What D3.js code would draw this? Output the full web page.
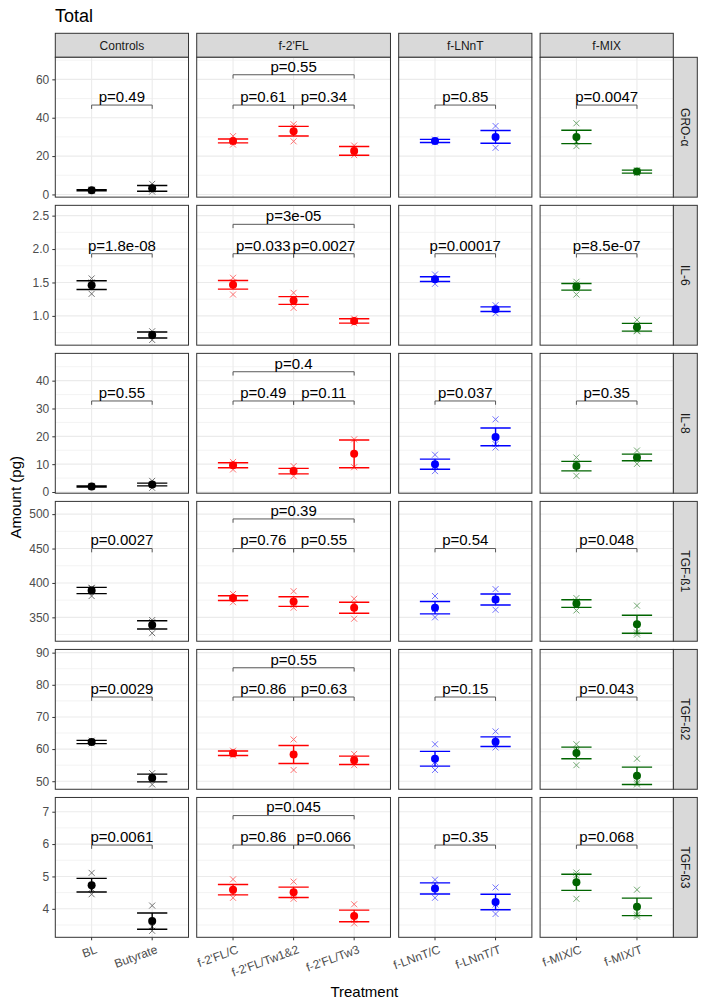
<!DOCTYPE html>
<html>
<head>
<meta charset="utf-8">
<script src="https://cdn.jsdelivr.net/npm/d3@7"></script>
<style>
  body { margin: 0; background: #fff; }
  svg { font-family: "Liberation Sans", Arial, sans-serif; }
</style>
</head>
<body>
<div id="chart"></div>
<script>
const facets = ["Controls", "f-2'FL", "f-LNnT", "f-MIX"];
const treatments = [
  ["BL", "Butyrate"],
  ["f-2'FL/C", "f-2'FL/Tw1&2", "f-2'FL/Tw3"],
  ["f-LNnT/C", "f-LNnT/T"],
  ["f-MIX/C", "f-MIX/T"]
];
const facetColors = ["#000000", "#FF0000", "#0000FF", "#006400"];
const cytokines = ["GRO-α", "IL-6", "IL-8", "TGF-ß1", "TGF-ß2", "TGF-ß3"];

// order: BL, Butyrate, 2'FL/C, 2'FL/Tw1&2, 2'FL/Tw3, LNnT/C, LNnT/T, MIX/C, MIX/T
const groMean = [2.2, 3.2, 27.9, 33.0, 22.7, 27.9, 30.0, 30.0, 11.9];
const groSE   = [0.3, 1.5, 1.0, 2.5, 2.3, 0.8, 3.3, 3.5, 0.8];
const groPts  = [[1.9, 2.2, 2.5], [1.5, 2.5, 5.5], [26.0, 27.3, 30.4], [27.7, 35.0, 36.6], [20.5, 22.0, 25.5],
                 [27.2, 27.9, 28.6], [24.3, 30.0, 35.7], [25.2, 27.7, 37.1], [11.2, 11.9, 12.6]];

const il6Mean = [1.46, 0.715, 1.465, 1.23, 0.925, 1.55, 1.10, 1.435, 0.83];
const il6SE   = [0.065, 0.045, 0.065, 0.058, 0.033, 0.035, 0.035, 0.05, 0.058];
const il6Pts  = [[1.33, 1.50, 1.56], [0.64, 0.73, 0.77], [1.32, 1.50, 1.57], [1.12, 1.22, 1.345], [0.89, 0.93, 0.96],
                 [1.48, 1.55, 1.62], [1.04, 1.10, 1.16], [1.32, 1.47, 1.51], [0.77, 0.78, 0.94]];

const il8Mean = [2.0, 2.7, 9.6, 7.5, 13.7, 10.0, 19.8, 9.3, 12.4];
const il8SE   = [0.2, 0.5, 0.9, 1.0, 5.0, 1.8, 3.2, 1.7, 1.2];
const il8Pts  = [[1.8, 2.0, 2.2], [1.5, 2.6, 4.0], [8.1, 9.8, 10.8], [5.7, 7.5, 9.3], [8.9, 18.9],
                 [7.5, 9.2, 13.4], [16.0, 17.2, 26.1], [5.8, 9.6, 12.4], [10.1, 12.2, 14.9]];

const tgf1Mean = [389, 339, 378, 373, 364, 364, 376, 370, 340];
const tgf1SE   = [4.5, 6, 3.5, 7, 8, 9, 8, 5.5, 13];
const tgf1Pts  = [[381, 392, 393], [327, 343, 346], [372, 378, 384], [364, 368, 388], [348, 368, 377],
                  [350, 362, 381], [361, 376, 391], [360, 373, 378], [325, 328, 367]];

const tgf2Mean = [62.2, 51.0, 58.7, 58.3, 56.5, 57.0, 62.3, 58.8, 51.7];
const tgf2SE   = [0.5, 1.2, 0.7, 2.8, 1.3, 2.3, 1.5, 1.8, 2.7];
const tgf2Pts  = [[61.8, 62.2, 62.6], [49.0, 51.5, 52.5], [58.0, 58.5, 59.5], [53.5, 58.5, 63.0], [55.0, 56.5, 58.5],
                  [53.5, 56.0, 61.5], [60.5, 61.5, 65.5], [55.0, 59.5, 61.5], [49.0, 49.5, 57.0]];

const tgf3Mean = [4.73, 3.62, 4.59, 4.51, 3.78, 4.63, 4.21, 4.82, 4.06];
const tgf3SE   = [0.21, 0.25, 0.16, 0.16, 0.18, 0.17, 0.24, 0.25, 0.27];
const tgf3Pts  = [[4.45, 4.62, 5.11], [3.32, 3.45, 4.10], [4.34, 4.53, 4.91], [4.31, 4.39, 4.84], [3.55, 3.66, 4.14],
                  [4.34, 4.66, 4.90], [3.84, 4.13, 4.66], [4.31, 5.04, 5.12], [3.76, 3.82, 4.59]];

// p-values: Controls, 2'FL C vs Tw3, 2'FL C vs Tw1&2, 2'FL Tw1&2 vs Tw3, LNnT, MIX
const groP  = ["0.49", "0.55", "0.61", "0.34", "0.85", "0.0047"];
const il6P  = ["1.8e-08", "3e-05", "0.033", "0.0027", "0.00017", "8.5e-07"];
const il8P  = ["0.55", "0.4", "0.49", "0.11", "0.037", "0.35"];
const tgf1P = ["0.0027", "0.39", "0.76", "0.55", "0.54", "0.048"];
const tgf2P = ["0.0029", "0.55", "0.86", "0.63", "0.15", "0.043"];
const tgf3P = ["0.0061", "0.045", "0.86", "0.066", "0.35", "0.068"];

// y-axis limits, ticks, bracket heights [lower, upper]
const yDomains = [[-1.4, 71.5], [0.562, 2.654], [-0.43, 49.8], [315.3, 518.5], [47.5, 91], [3.12, 7.44]];
const yTicks = [[0, 20, 40, 60], [1.0, 1.5, 2.0, 2.5], [0, 10, 20, 30, 40], [350, 400, 450, 500], [50, 60, 70, 80, 90], [4, 5, 6, 7]];
const bracketY = [[46.6, 62.4], [1.93, 2.37], [32.7, 43.2], [450, 493], [76.2, 85.3], [5.97, 6.88]];

const means = [groMean, il6Mean, il8Mean, tgf1Mean, tgf2Mean, tgf3Mean];
const ses = [groSE, il6SE, il8SE, tgf1SE, tgf2SE, tgf3SE];
const pts = [groPts, il6Pts, il8Pts, tgf1Pts, tgf2Pts, tgf3Pts];
const pvals = [groP, il6P, il8P, tgf1P, tgf2P, tgf3P];
// facet, from, to, level
const comparisons = [[0, 0, 1, 0], [1, 0, 2, 1], [1, 0, 1, 0], [1, 1, 2, 0], [2, 0, 1, 0], [3, 0, 1, 0]];

const width = 711, height = 1008;
const pLeft = 55.3, pRight = 673.3, pTop = 57.3, pBottom = 937.3, gap = 8.2, strip = 24;

const svg = d3.select("#chart").append("svg")
  .attr("width", width).attr("height", height);

const unit = (pRight - pLeft - gap * 3) / d3.sum(treatments, t => t.length - 1 + 1.2);
let x0 = pLeft;
const xScales = treatments.map(t => {
  const w = (t.length - 1 + 1.2) * unit;
  const s = d3.scalePoint().domain(t).range([x0, x0 + w]).padding(0.6);
  x0 += w + gap;
  return s;
});
const rowH = (pBottom - pTop - gap * 5) / 6;

// title
svg.append("text").attr("x", 55).attr("y", 22).attr("font-size", 18).text("Total");

// top strips
facets.forEach((f, i) => {
  const [a, b] = xScales[i].range();
  svg.append("rect").attr("x", a).attr("y", pTop - strip).attr("width", b - a).attr("height", strip)
    .attr("fill", "#D9D9D9").attr("stroke", "#333333").attr("stroke-width", 1);
  svg.append("text").attr("x", (a + b) / 2).attr("y", pTop - strip / 2).attr("dy", "0.35em")
    .attr("text-anchor", "middle").attr("font-size", 12).attr("fill", "#1A1A1A").text(f);
});

let flat = 0;
const offsets = treatments.map(t => { const o = flat; flat += t.length; return o; });

cytokines.forEach((cyt, r) => {
  const y0 = pTop + r * (rowH + gap), y1 = y0 + rowH;
  const y = d3.scaleLinear().domain(yDomains[r]).range([y1, y0]);
  const ticks = yTicks[r];
  const step = ticks[1] - ticks[0];
  const minor = [ticks[0] - step / 2, ...ticks.map(t => t + step / 2)]
    .filter(v => v >= yDomains[r][0] && v <= yDomains[r][1]);
  const fmt = r === 1 ? d3.format(".1f") : d3.format("d");

  // right strip
  svg.append("rect").attr("x", pRight).attr("y", y0).attr("width", strip).attr("height", rowH)
    .attr("fill", "#D9D9D9").attr("stroke", "#333333").attr("stroke-width", 1);
  svg.append("text")
    .attr("transform", `translate(${pRight + strip / 2},${(y0 + y1) / 2}) rotate(90)`)
    .attr("dy", "0.35em").attr("text-anchor", "middle").attr("font-size", 12).attr("fill", "#1A1A1A")
    .text(cyt);

  // y axis on the first column
  const yAxis = svg.append("g").attr("transform", `translate(${pLeft},0)`)
    .call(d3.axisLeft(y).tickValues(ticks).tickFormat(fmt).tickSize(3).tickPadding(3));
  yAxis.select(".domain").remove();
  yAxis.selectAll("line").attr("stroke", "#333333");
  yAxis.selectAll("text").attr("font-size", 12).attr("fill", "#4D4D4D")
    .attr("font-family", "Liberation Sans, Arial, sans-serif");

  treatments.forEach((tr, f) => {
    const x = xScales[f];
    const [a, b] = x.range();
    const g = svg.append("g");
    const col = facetColors[f];

    g.append("rect").attr("x", a).attr("y", y0).attr("width", b - a).attr("height", rowH).attr("fill", "#fff");
    g.selectAll(".minor").data(minor).enter().append("line")
      .attr("x1", a).attr("x2", b).attr("y1", d => y(d)).attr("y2", d => y(d))
      .attr("stroke", "#EBEBEB").attr("stroke-width", 0.6);
    g.selectAll(".major").data(ticks).enter().append("line")
      .attr("x1", a).attr("x2", b).attr("y1", d => y(d)).attr("y2", d => y(d))
      .attr("stroke", "#EBEBEB").attr("stroke-width", 1.1);
    g.selectAll(".vgrid").data(tr).enter().append("line")
      .attr("x1", d => x(d)).attr("x2", d => x(d)).attr("y1", y0).attr("y2", y1)
      .attr("stroke", "#EBEBEB").attr("stroke-width", 1.1);

    // brackets
    comparisons.forEach((c, k) => {
      if (c[0] !== f) return;
      const xa = x(tr[c[1]]), xb = x(tr[c[2]]);
      const yb = y(bracketY[r][c[3]]);
      g.append("path")
        .attr("d", `M${xa},${yb + 3.8}V${yb}H${xb}V${yb + 3.8}`)
        .attr("fill", "none").attr("stroke", "#595959").attr("stroke-width", 1);
      g.append("text").attr("x", (xa + xb) / 2).attr("y", yb - 3.2)
        .attr("text-anchor", "middle").attr("font-size", 15).attr("fill", "#000")
        .text("p=" + pvals[r][k]);
    });

    tr.forEach((t, i) => {
      const idx = offsets[f] + i;
      const cx = x(t);
      const m = means[r][idx], se = ses[r][idx];
      // raw points
      pts[r][idx].forEach(v => {
        const py = y(v);
        g.append("path").attr("d", `M${cx - 3},${py - 3}L${cx + 3},${py + 3}M${cx - 3},${py + 3}L${cx + 3},${py - 3}`)
          .attr("stroke", col).attr("stroke-width", 1).attr("opacity", 0.55);
      });
      // error bar
      const hw = unit * 0.25;
      g.append("path")
        .attr("d", `M${cx - hw},${y(m + se)}H${cx + hw}M${cx},${y(m + se)}V${y(m - se)}M${cx - hw},${y(m - se)}H${cx + hw}`)
        .attr("fill", "none").attr("stroke", col).attr("stroke-width", 1.4);
      g.append("circle").attr("cx", cx).attr("cy", y(m)).attr("r", 4).attr("fill", col);
    });

    g.append("rect").attr("x", a).attr("y", y0).attr("width", b - a).attr("height", rowH)
      .attr("fill", "none").attr("stroke", "#333333").attr("stroke-width", 1);

    // x axis on bottom row
    if (r === cytokines.length - 1) {
      tr.forEach(t => {
        svg.append("line").attr("x1", x(t)).attr("x2", x(t)).attr("y1", y1).attr("y2", y1 + 3)
          .attr("stroke", "#333333");
        svg.append("text")
          .attr("transform", `translate(${x(t) + 3},${y1 + 7}) rotate(-20)`)
          .attr("dy", "0.75em").attr("text-anchor", "end").attr("font-size", 12).attr("fill", "#4D4D4D")
          .text(t);
      });
    }
  });
});

// axis titles
svg.append("text")
  .attr("transform", `translate(21,${(pTop + pBottom) / 2}) rotate(-90)`)
  .attr("text-anchor", "middle").attr("font-size", 15).text("Amount (pg)");
svg.append("text").attr("x", (pLeft + pRight) / 2).attr("y", 997)
  .attr("text-anchor", "middle").attr("font-size", 15).text("Treatment");
</script>
</body>
</html>
